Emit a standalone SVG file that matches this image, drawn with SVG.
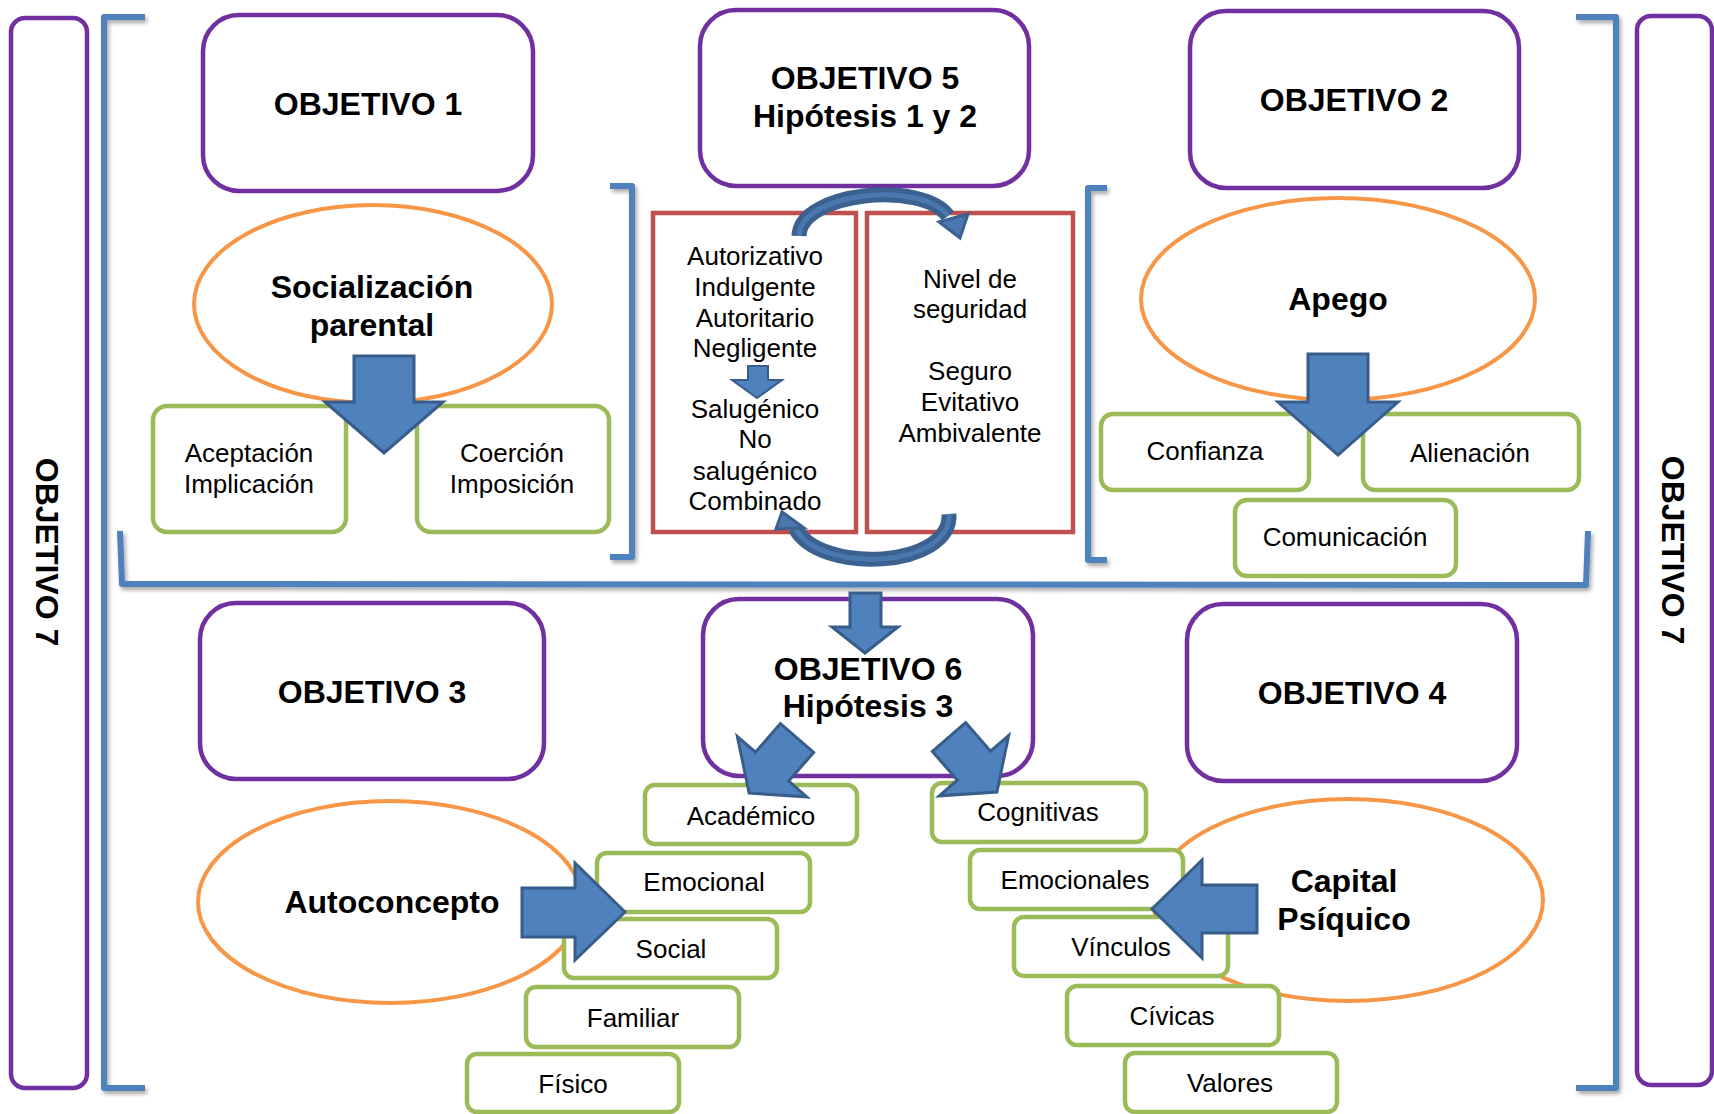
<svg xmlns="http://www.w3.org/2000/svg" width="1714" height="1114" viewBox="0 0 1714 1114">
<style>
.obj{fill:#fff;stroke:#7030A0;stroke-width:4.5}
.ell{fill:#fff;stroke:#F79646;stroke-width:4}
.grn{fill:#fff;stroke:#9BBB59;stroke-width:4.5}
.red{fill:#fff;stroke:#C0504D;stroke-width:4.5}
.brk{fill:none;stroke:#4F81BD;stroke-width:6;stroke-linejoin:round}
.arr{fill:#4F81BD;stroke:#385D8A;stroke-width:3;stroke-linejoin:miter}
.band1{fill:none;stroke:#3A6190;stroke-width:15;stroke-linecap:butt}
.band2{fill:none;stroke:#4A78AE;stroke-width:5;stroke-linecap:butt}
.t{font-family:"Liberation Sans",Arial,sans-serif;font-size:26px;text-anchor:middle;fill:#000}
.b{font-weight:bold;font-size:32px}
</style>
<defs>
<filter id="sh" x="-50%" y="-50%" width="200%" height="200%">
<feGaussianBlur in="SourceAlpha" stdDeviation="2"/>
<feOffset dx="2" dy="3" result="o"/>
<feComponentTransfer><feFuncA type="linear" slope="0.35"/></feComponentTransfer>
<feMerge><feMergeNode/><feMergeNode in="SourceGraphic"/></feMerge>
</filter>
</defs>

<!-- brackets -->
<g id="brackets" filter="url(#sh)">
<path class="brk" d="M145 17 L104 17 L104 1088 L145 1088"/>
<path class="brk" d="M1576 17 L1616 17 L1616 1088 L1576 1088"/>
<path class="brk" d="M120 531 L122 584 L1586 585 L1588 531"/>
<path class="brk" d="M610 186 L632 186 L632 557 L610 557"/>
<path class="brk" d="M1107 188 L1088 188 L1088 560 L1107 560"/>
</g>

<!-- Objetivo 7 side boxes -->
<g id="obj7-left">
<rect class="obj" x="11" y="18" width="76" height="1070" rx="14"/>
<text class="t b" transform="translate(47,552) rotate(90)" y="11">OBJETIVO 7</text>
</g>
<g id="obj7-right">
<rect class="obj" x="1637" y="16" width="75" height="1069" rx="14"/>
<text class="t b" transform="translate(1673,550) rotate(90)" y="11">OBJETIVO 7</text>
</g>

<!-- purple objective boxes -->
<g id="obj1"><rect class="obj" x="203" y="15" width="330" height="176" rx="36"/><text class="t b" x="368" y="115">OBJETIVO 1</text></g>
<g id="obj5"><rect class="obj" x="700" y="10" width="329" height="176" rx="36"/><text class="t b" x="865" y="89">OBJETIVO 5</text><text class="t b" x="865" y="127">Hipótesis 1 y 2</text></g>
<g id="obj2"><rect class="obj" x="1190" y="11" width="329" height="177" rx="36"/><text class="t b" x="1354" y="111">OBJETIVO 2</text></g>
<g id="obj3"><rect class="obj" x="200" y="603" width="344" height="176" rx="36"/><text class="t b" x="372" y="703">OBJETIVO 3</text></g>
<g id="obj6"><rect class="obj" x="703" y="599" width="330" height="177" rx="36"/><text class="t b" x="868" y="680">OBJETIVO 6</text><text class="t b" x="868" y="717">Hipótesis 3</text></g>
<g id="obj4"><rect class="obj" x="1187" y="604" width="330" height="177" rx="36"/><text class="t b" x="1352" y="704">OBJETIVO 4</text></g>

<!-- ellipses -->
<g id="socializacion"><ellipse class="ell" cx="373" cy="304" rx="179" ry="99"/><text class="t b" x="372" y="298">Socialización</text><text class="t b" x="372" y="336">parental</text></g>
<g id="apego"><ellipse class="ell" cx="1338" cy="299" rx="197" ry="101"/><text class="t b" x="1338" y="310">Apego</text></g>
<g id="autoconcepto"><ellipse class="ell" cx="390" cy="902" rx="192" ry="101"/><text class="t b" x="392" y="913">Autoconcepto</text></g>
<g id="capital"><ellipse class="ell" cx="1348" cy="900" rx="195" ry="101"/><text class="t b" x="1344" y="892">Capital</text><text class="t b" x="1344" y="930">Psíquico</text></g>

<!-- red boxes -->
<g id="estilos">
<rect class="red" x="653" y="213" width="203" height="319"/>
<text class="t" x="755" y="265">Autorizativo</text>
<text class="t" x="755" y="296">Indulgente</text>
<text class="t" x="755" y="327">Autoritario</text>
<text class="t" x="755" y="357">Negligente</text>
<polygon class="arr" style="stroke-width:2" points="748,366 768,366 768,380 782,380 757,398 732,380 748,380"/>
<text class="t" x="755" y="418">Salugénico</text>
<text class="t" x="755" y="448">No</text>
<text class="t" x="755" y="480">salugénico</text>
<text class="t" x="755" y="510">Combinado</text>
</g>
<g id="seguridad">
<rect class="red" x="867" y="213" width="206" height="319"/>
<text class="t" x="970" y="288">Nivel de</text>
<text class="t" x="970" y="318">seguridad</text>
<text class="t" x="970" y="380">Seguro</text>
<text class="t" x="970" y="411">Evitativo</text>
<text class="t" x="970" y="442">Ambivalente</text>
</g>

<!-- green boxes -->
<g id="aceptacion"><rect class="grn" x="153" y="406" width="193" height="126" rx="14"/><text class="t" x="249" y="462">Aceptación</text><text class="t" x="249" y="493">Implicación</text></g>
<g id="coercion"><rect class="grn" x="417" y="406" width="192" height="126" rx="14"/><text class="t" x="512" y="462">Coerción</text><text class="t" x="512" y="493">Imposición</text></g>
<g id="confianza"><rect class="grn" x="1101" y="414" width="208" height="76" rx="12"/><text class="t" x="1205" y="460">Confianza</text></g>
<g id="alienacion"><rect class="grn" x="1363" y="414" width="216" height="76" rx="12"/><text class="t" x="1470" y="462">Alienación</text></g>
<g id="comunicacion"><rect class="grn" x="1235" y="500" width="221" height="76" rx="12"/><text class="t" x="1345" y="546">Comunicación</text></g>

<g id="academico"><rect class="grn" x="645" y="785" width="212" height="59" rx="10"/><text class="t" x="751" y="825">Académico</text></g>
<g id="emocional"><rect class="grn" x="597" y="853" width="213" height="59" rx="10"/><text class="t" x="704" y="891">Emocional</text></g>
<g id="social"><rect class="grn" x="564" y="919" width="213" height="59" rx="10"/><text class="t" x="671" y="958">Social</text></g>
<g id="familiar"><rect class="grn" x="526" y="987" width="213" height="60" rx="10"/><text class="t" x="633" y="1027">Familiar</text></g>
<g id="fisico"><rect class="grn" x="467" y="1054" width="212" height="58" rx="10"/><text class="t" x="573" y="1093">Físico</text></g>

<g id="cognitivas"><rect class="grn" x="932" y="783" width="214" height="59" rx="10"/><text class="t" x="1038" y="821">Cognitivas</text></g>
<g id="emocionales"><rect class="grn" x="970" y="850" width="213" height="59" rx="10"/><text class="t" x="1075" y="889">Emocionales</text></g>
<g id="vinculos"><rect class="grn" x="1014" y="917" width="214" height="59" rx="10"/><text class="t" x="1121" y="956">Vínculos</text></g>
<g id="civicas"><rect class="grn" x="1067" y="986" width="212" height="59" rx="10"/><text class="t" x="1172" y="1025">Cívicas</text></g>
<g id="valores"><rect class="grn" x="1125" y="1053" width="212" height="59" rx="10"/><text class="t" x="1230" y="1092">Valores</text></g>

<!-- connectors -->
<g id="connectors">
<polygon class="arr" points="354,356 414,356 414,402 443,402 384,453 325,402 354,402"/>
<polygon class="arr" points="1308,354 1368,354 1368,402 1398,402 1338,455 1278,402 1308,402"/>
<polygon class="arr" points="850,593 881,593 881,627 898,627 865,653 832,627 850,627"/>
<polygon class="arr" points="522,888 575,888 575,863 625,912 575,960 575,937 522,937"/>
<polygon class="arr" points="1257,885 1202,885 1202,860 1152,909 1202,958 1202,933 1257,933"/>
<polygon class="arr" transform="translate(797,738) rotate(131)" points="0,-22 38,-22 38,-46 73,0 38,46 38,22 0,22"/>
<polygon class="arr" transform="translate(949,737) rotate(49)" points="0,-22 38,-22 38,-46 73,0 38,46 38,22 0,22"/>
<path class="band1" d="M799 236 C800 192,922 180,948 216"/>
<path class="band2" d="M799 236 C800 192,922 180,948 216"/>
<polygon class="arr" style="fill:#4A78AE;stroke:#3A6190" points="939,222 968,214 960,238"/>
<path class="band1" d="M949 514 C952 568,820 575,795 528"/>
<path class="band2" d="M949 514 C952 568,820 575,795 528"/>
<polygon class="arr" style="fill:#4A78AE;stroke:#3A6190" points="782,512 776,529 804,528"/>
</g>
</svg>
